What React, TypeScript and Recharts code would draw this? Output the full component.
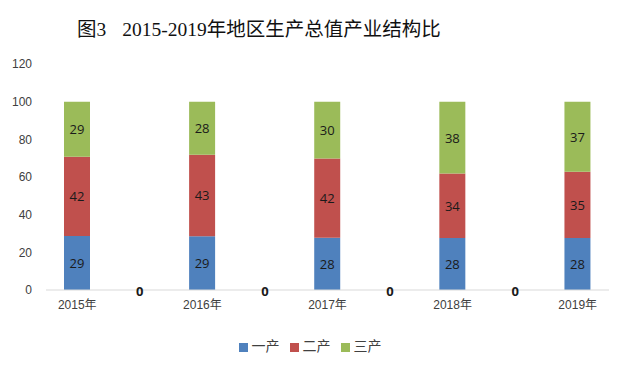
import React from 'react';
import { ComposedChart, Bar, Line, XAxis, YAxis, Legend, LabelList } from 'recharts';

const categories = ['2015年', '', '2016年', '', '2017年', '', '2018年', '', '2019年'];
const primary = [28.7, 0, 28.6, 0, 27.7, 0, 27.6, 0, 27.6];
const secondary = [42.0, 0, 43.2, 0, 42.1, 0, 34.2, 0, 35.2];
const tertiary = [29.3, 0, 28.2, 0, 30.2, 0, 38.2, 0, 37.2];
const gapTotals = [null, 0, null, 0, null, 0, null, 0, null];
const yTicks = [0, 20, 40, 60, 80, 100, 120];
const seriesNames = ['一产', '二产', '三产'];
const colors = ['#4F81BD', '#C0504D', '#9BBB59'];

const data = categories.map((c, i) => ({
  name: c,
  a: primary[i],
  b: secondary[i],
  c: tertiary[i],
  z: gapTotals[i],
}));

const barLabel = (props: any) => {
  const { x, y, width, height, value } = props;
  const v = Math.round(Number(value));
  if (!v) return null;
  return (
    <text
      x={x + width / 2}
      y={y + height / 2}
      textAnchor="middle"
      dominantBaseline="central"
      fontSize={13}
      fill="#1a1a1a"
      fontFamily="'Open Sans','Liberation Sans',sans-serif"
    >
      {v}
    </text>
  );
};

const zeroLabel = (props: any) => {
  const { x, y, value } = props;
  if (value === null || value === undefined) return null;
  return (
    <text
      x={x}
      y={y + 1}
      textAnchor="middle"
      dominantBaseline="central"
      fontSize={13}
      fontWeight="bold"
      fill="#1a1a1a"
      fontFamily="'Open Sans','Liberation Sans',sans-serif"
    >
      {value}
    </text>
  );
};

export default function App() {
  return (
    <div style={{ position: 'absolute', left: 0, top: 0, width: 630, height: 370, background: '#fff' }}>
      <div
        style={{
          position: 'absolute',
          left: 77,
          top: 13,
          fontSize: 19.5,
          whiteSpace: 'pre',
          color: '#111',
          fontFamily: "'Liberation Serif','Noto Sans CJK SC',serif",
        }}
      >
        <span>图3</span>
        <span style={{ marginLeft: 16 }}>2015-2019年地区生产总值产业结构比</span>
      </div>
      <ComposedChart
        width={630}
        height={370}
        data={data}
        margin={{ top: 64, right: 21, bottom: 30, left: 0 }}
        barSize={26}
      >
        <XAxis
          dataKey="name"
          interval={0}
          tickLine={false}
          axisLine={{ stroke: '#d9d9d9' }}
          tick={{ fontSize: 12, fill: '#404040', fontFamily: "'Liberation Sans','Noto Sans CJK SC',sans-serif" }}
          tickMargin={4}
        />
        <YAxis
          width={46}
          domain={[0, 120]}
          ticks={yTicks}
          tickLine={false}
          axisLine={false}
          tick={{ fontSize: 12, fill: '#404040', fontFamily: "'Liberation Sans',sans-serif" }}
          tickMargin={8}
        />
        <Legend
          iconType="square"
          iconSize={9}
          itemSorter="dataKey"
          wrapperStyle={{ top: 335, left: 0, width: 630, fontSize: 14, fontFamily: "'Noto Sans CJK SC',sans-serif" }}
          formatter={(value: string) => <span style={{ color: '#404040' }}>{value}</span>}
        />
        <Bar dataKey="a" name={seriesNames[0]} stackId="s" fill={colors[0]} isAnimationActive={false}>
          <LabelList dataKey="a" content={barLabel} />
        </Bar>
        <Bar dataKey="b" name={seriesNames[1]} stackId="s" fill={colors[1]} isAnimationActive={false}>
          <LabelList dataKey="b" content={barLabel} />
        </Bar>
        <Bar dataKey="c" name={seriesNames[2]} stackId="s" fill={colors[2]} isAnimationActive={false}>
          <LabelList dataKey="c" content={barLabel} />
        </Bar>
        <Line
          dataKey="z"
          stroke="none"
          dot={false}
          activeDot={false}
          legendType="none"
          isAnimationActive={false}
        >
          <LabelList dataKey="z" content={zeroLabel} />
        </Line>
      </ComposedChart>
    </div>
  );
}
